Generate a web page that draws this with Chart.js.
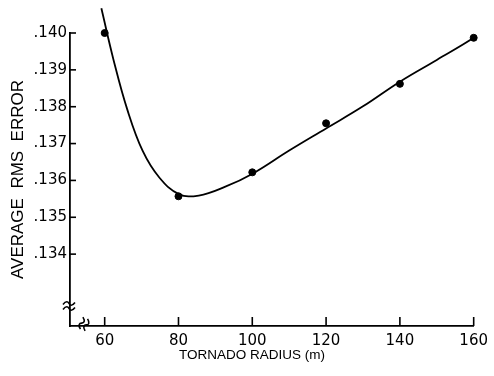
<!DOCTYPE html>
<html>
<head>
<meta charset="utf-8">
<script src="https://cdn.jsdelivr.net/npm/chart.js@4/dist/chart.umd.min.js"></script>
<style>
  body { margin: 0; background: #fff; }
  #wrap { width: 494px; height: 376px; }
</style>
</head>
<body>
<div id="wrap"><canvas id="rmsChart"></canvas></div>
<script>
// measured points
const radius = [60, 80, 100, 120, 140, 160];
const rmsError = [0.14000, 0.13557, 0.13622, 0.13755, 0.13862, 0.13987];

// hand-drawn fit curve
const fitRadius = [59.1, 62.4, 66.2, 70.3, 74.8, 80.1, 85.5, 92.7, 100.2, 110, 120, 130, 140, 150, 160, 162.1];
const fitError = [0.14067, 0.13927, 0.13790, 0.13680, 0.13608, 0.13563, 0.13559, 0.13583, 0.13619, 0.13681, 0.13741, 0.13801, 0.13868, 0.13927, 0.13987, 0.14006];

const xTickValues = [60, 80, 100, 120, 140, 160];
const xTickLabels = ['60', '80', '100', '120', '140', '160'];
const yTickValues = [0.134, 0.135, 0.136, 0.137, 0.138, 0.139, 0.140];
const yTickLabels = ['.134', '.135', '.136', '.137', '.138', '.139', '.140'];

Chart.defaults.color = '#000';
Chart.defaults.font.family = '"DejaVu Sans", sans-serif';

// little wavy "break" symbol, two strokes
function drawBreak(ctx, cx, cy, angle) {
    ctx.save();
    ctx.translate(cx, cy);
    ctx.rotate(angle);
    ctx.lineWidth = 1.6;
    [-2.5, 2.5].forEach(dy => {
        ctx.beginPath();
        ctx.moveTo(-6, dy + 1);
        ctx.bezierCurveTo(-3, dy - 3, -1, dy - 2, 0, dy);
        ctx.bezierCurveTo(1, dy + 2, 3, dy + 3, 6, dy - 1);
        ctx.stroke();
    });
    ctx.restore();
}

const axisExtras = {
    id: 'axisExtras',
    afterDraw(chart) {
        const { ctx, chartArea, scales } = chart;
        const x = scales.x;
        const y = scales.y;
        ctx.save();
        ctx.strokeStyle = '#000';
        ctx.lineWidth = 1.6;
        // inward ticks
        yTickValues.forEach(v => {
            const py = y.getPixelForValue(v);
            ctx.beginPath();
            ctx.moveTo(chartArea.left, py);
            ctx.lineTo(chartArea.left + 6, py);
            ctx.stroke();
        });
        xTickValues.forEach(v => {
            const px = x.getPixelForValue(v);
            ctx.beginPath();
            ctx.moveTo(px, chartArea.bottom);
            ctx.lineTo(px, chartArea.bottom - 9);
            ctx.stroke();
        });
        // axis breaks
        drawBreak(ctx, chartArea.left - 1, chartArea.bottom - 20, 0);
        drawBreak(ctx, chartArea.left + 14, chartArea.bottom - 2, -1.2);
        // x axis title (sits left of centre in the original)
        ctx.fillStyle = '#000';
        ctx.font = '13.5px "Liberation Sans", sans-serif';
        ctx.textAlign = 'center';
        ctx.textBaseline = 'middle';
        ctx.fillText('TORNADO RADIUS (m)', 252, 355);
        ctx.restore();
    }
};

new Chart(document.getElementById('rmsChart'), {
    type: 'scatter',
    data: {
        datasets: [
            {
                label: 'fit',
                data: fitRadius.map((r, i) => ({ x: r, y: fitError[i] })),
                showLine: true,
                borderColor: '#000',
                borderWidth: 1.8,
                pointRadius: 0,
                tension: 0.4,
                clip: false
            },
            {
                label: 'rms',
                data: radius.map((r, i) => ({ x: r, y: rmsError[i] })),
                backgroundColor: '#000',
                borderColor: '#000',
                pointRadius: 3.5,
                clip: false
            }
        ]
    },
    options: {
        responsive: true,
        maintainAspectRatio: false,
        animation: false,
        layout: { padding: { top: 33, right: 16, left: 0, bottom: 0 } },
        plugins: {
            legend: { display: false },
            tooltip: { enabled: false }
        },
        scales: {
            x: {
                type: 'linear',
                min: 50.6,
                max: 160,
                afterBuildTicks: scale => { scale.ticks = xTickValues.map(v => ({ value: v })); },
                afterFit: scale => { scale.height = 50; },
                ticks: {
                    font: { size: 15 },
                    padding: 6,
                    maxRotation: 0,
                    callback: (value, index) => xTickLabels[index]
                },
                grid: { display: false, drawTicks: false },
                border: { display: true, color: '#000', width: 1.8 }
            },
            y: {
                type: 'linear',
                min: 0.13205,
                max: 0.140,
                afterBuildTicks: scale => { scale.ticks = yTickValues.map(v => ({ value: v })); },
                afterFit: scale => { scale.width = 70; },
                ticks: {
                    font: { size: 15 },
                    padding: 3,
                    callback: (value, index) => yTickLabels[index]
                },
                grid: { display: false, drawTicks: false },
                border: { display: true, color: '#000', width: 1.8 },
                title: {
                    display: true,
                    text: 'AVERAGE  RMS  ERROR',
                    font: { size: 17, family: '"Liberation Sans", sans-serif' },
                    padding: { top: 8, bottom: 0 }
                }
            }
        }
    },
    plugins: [axisExtras]
});
</script>
</body>
</html>
